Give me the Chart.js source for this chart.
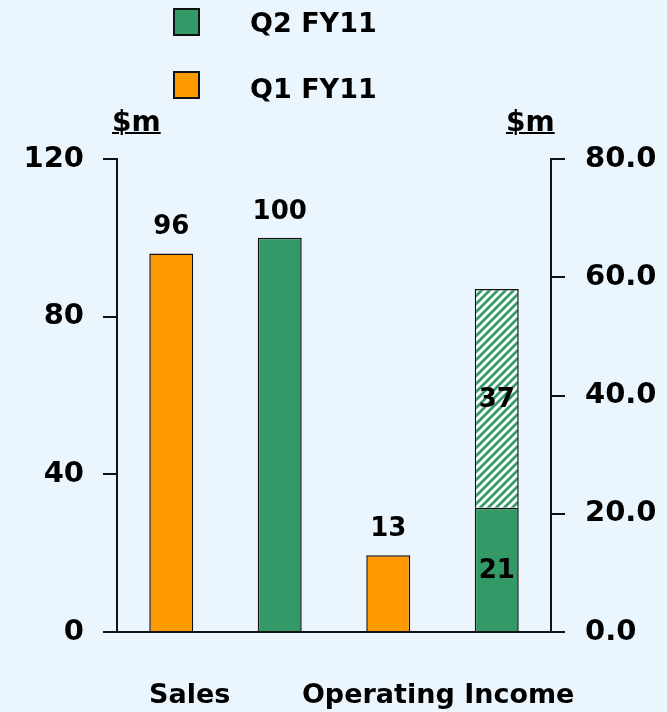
<!DOCTYPE html>
<html>
<head>
<meta charset="utf-8">
<script src="https://cdn.jsdelivr.net/npm/chart.js@4/dist/chart.umd.min.js"></script>
<style>
  html, body { margin: 0; padding: 0; background: #eaf5fd; }
  #wrap { position: relative; width: 667px; height: 712px; }
  .txt { position: absolute; font: bold 27px "DejaVu Sans", sans-serif; line-height: 28px; color: #000; white-space: nowrap; }
  .box { position: absolute; width: 23px; height: 24px; border: 2px solid #111; }
  .unit { font-size: 28px; text-decoration: underline; text-decoration-thickness: 2px; }
</style>
</head>
<body>
<div id="wrap">
  <canvas id="chart"></canvas>
  <div class="box" style="left:173px;top:8px;background:#339966"></div>
  <div class="txt" style="left:250px;top:9px">Q2 FY11</div>
  <div class="box" style="left:173px;top:71px;background:#ff9900"></div>
  <div class="txt" style="left:250px;top:75px">Q1 FY11</div>
  <div class="txt unit" style="left:112px;top:108px">$m</div>
  <div class="txt unit" style="left:506px;top:108px">$m</div>
</div>
<script>
// one column per bar; sales on the left axis, operating income on the right
const categories = ['Sales Q1 FY11', 'Sales Q2 FY11', 'Op. Income Q1 FY11', 'Op. Income Q2 FY11'];
const salesQ1 = [96, null, null, null];
const salesQ2 = [null, 100, null, null];
const opIncomeQ1 = [null, null, 13, null];
const opIncomeQ2 = [null, null, null, 21];
const opIncomeQ2Extra = [null, null, null, 37];

const groupLabels = ['Sales', 'Operating Income'];
const groupLabelPos = [0.17, 2.46];  // in category units, where the titles sit

const leftTicks = [0, 40, 80, 120];
const rightTicks = [0, 20, 40, 60, 80];

const GREEN = '#339966';
const ORANGE = '#ff9900';
const AXIS = '#111111';

function hatch() {
  const c = document.createElement('canvas');
  c.width = 8; c.height = 8;
  const g = c.getContext('2d');
  g.fillStyle = GREEN;
  g.fillRect(0, 0, 8, 8);
  g.strokeStyle = '#ffffff';
  g.lineWidth = 3;
  g.beginPath();
  g.moveTo(-2, 2); g.lineTo(2, -2);
  g.moveTo(0, 8); g.lineTo(8, 0);
  g.moveTo(6, 10); g.lineTo(10, 6);
  g.stroke();
  return g.createPattern(c, 'repeat');
}

const valueLabels = {
  id: 'valueLabels',
  afterDatasetsDraw(chart) {
    const ctx = chart.ctx;
    ctx.save();
    ctx.font = 'bold 26px "DejaVu Sans"';
    ctx.fillStyle = '#000';
    ctx.textAlign = 'center';
    ctx.textBaseline = 'middle';
    chart.data.datasets.forEach((ds, i) => {
      chart.getDatasetMeta(i).data.forEach((bar, j) => {
        const v = ds.data[j];
        if (v == null) return;
        const y = ds.labelInside ? (bar.y + bar.base) / 2 + 2 : bar.y - 26;
        ctx.fillText(String(v), bar.x, y);
      });
    });
    ctx.restore();
  }
};

// category titles under the axis, placed through the x scale
const groupTitles = {
  id: 'groupTitles',
  afterDraw(chart) {
    const ctx = chart.ctx;
    const x = chart.scales.x;
    ctx.save();
    ctx.font = 'bold 27px "DejaVu Sans"';
    ctx.fillStyle = '#000';
    ctx.textAlign = 'center';
    ctx.textBaseline = 'alphabetic';
    groupLabels.forEach((t, i) => {
      ctx.fillText(t, x.getPixelForValue(groupLabelPos[i]), chart.chartArea.bottom + 71);
    });
    ctx.restore();
  }
};

const barCommon = {
  borderColor: AXIS,
  borderWidth: 1.5,
  categoryPercentage: 1,
  barPercentage: 0.405
};

const tickFont = { family: 'DejaVu Sans', size: 29, weight: 'bold' };

new Chart(document.getElementById('chart'), {
  type: 'bar',
  data: {
    labels: categories,
    datasets: [
      { ...barCommon, label: 'Q1 FY11', data: salesQ1, backgroundColor: ORANGE, yAxisID: 'y' },
      { ...barCommon, label: 'Q2 FY11', data: salesQ2, backgroundColor: GREEN, yAxisID: 'y' },
      { ...barCommon, label: 'Q1 FY11', data: opIncomeQ1, backgroundColor: ORANGE, yAxisID: 'y2' },
      { ...barCommon, label: 'Q2 FY11', data: opIncomeQ2, backgroundColor: GREEN, yAxisID: 'y2', labelInside: true },
      { ...barCommon, label: 'Q2 FY11 other', data: opIncomeQ2Extra, backgroundColor: hatch(), yAxisID: 'y2', labelInside: true }
    ]
  },
  options: {
    responsive: true,
    maintainAspectRatio: false,
    animation: false,
    layout: { padding: { top: 159, left: 0, right: 0, bottom: 80 } },
    plugins: { legend: { display: false }, tooltip: { enabled: false } },
    scales: {
      x: {
        stacked: true,
        grid: { display: false, drawTicks: false },
        border: { display: true, color: AXIS, width: 2 },
        ticks: { display: false },
        afterFit: a => { a.height = 0; }
      },
      y: {
        stacked: true,
        position: 'left',
        min: 0,
        max: 120,
        afterBuildTicks: a => { a.ticks = leftTicks.map(v => ({ value: v })); },
        afterFit: a => { a.width = 117; },
        grid: { drawOnChartArea: false, drawTicks: true, tickLength: 14, color: AXIS, lineWidth: 2 },
        border: { display: true, color: AXIS, width: 2 },
        ticks: { padding: 19, color: '#000', font: tickFont }
      },
      y2: {
        stacked: true,
        position: 'right',
        min: 0,
        max: 80,
        afterBuildTicks: a => { a.ticks = rightTicks.map(v => ({ value: v })); },
        afterFit: a => { a.width = 116; },
        grid: { drawOnChartArea: false, drawTicks: true, tickLength: 14, color: AXIS, lineWidth: 2 },
        border: { display: true, color: AXIS, width: 2 },
        ticks: { padding: 20, color: '#000', font: tickFont, callback: v => Number(v).toFixed(1) }
      }
    }
  },
  plugins: [valueLabels, groupTitles]
});
</script>
</body>
</html>
